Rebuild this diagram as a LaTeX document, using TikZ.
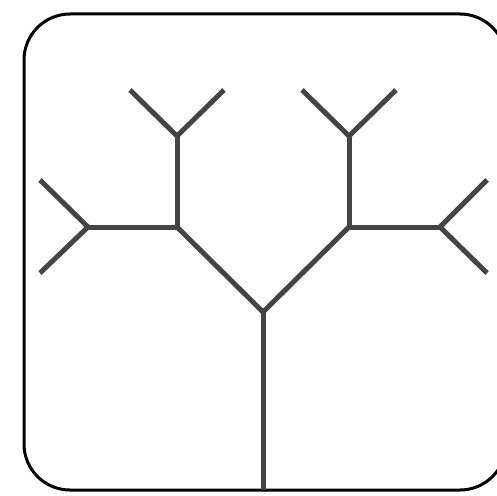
\documentclass[tikz,border=0pt]{standalone}
\usepackage{tikz}
\usepackage{xcolor}
\definecolor{branchgray}{HTML}{444444}

\begin{document}
\begin{tikzpicture}[
    x=1pt, y=-1pt,
    frame/.style={draw=black, line width=3pt, rounded corners=46pt},
    branch/.style={draw=branchgray, line width=5pt, line cap=butt, line join=miter}
]
    \useasboundingbox (0,0) rectangle (497,495);

    % Frame
    \draw[frame] (24,14) rectangle (506,490);

    % Trunk and fork
    \coordinate (root) at (263,490);
    \coordinate (fork) at (263,312);
    \coordinate (lmid) at (177,227);
    \coordinate (rmid) at (349,227);

    % Left branch
    \coordinate (ltop) at (177,136);
    \coordinate (ltopl) at (130,90);
    \coordinate (ltopr) at (224,90);
    \coordinate (lside) at (88,227);
    \coordinate (lsideu) at (40,180);
    \coordinate (lsided) at (40,273);

    % Right branch
    \coordinate (rtop) at (349,136);
    \coordinate (rtopl) at (302,90);
    \coordinate (rtopr) at (396,90);
    \coordinate (rside) at (440,227);
    \coordinate (rsideu) at (487,180);
    \coordinate (rsided) at (487,273);

    % Connections
    \draw[branch] (root) -- (fork);
    \draw[branch] (lmid) -- (fork) -- (rmid);

    \draw[branch] (lmid) -- (ltop);
    \draw[branch] (ltopl) -- (ltop) -- (ltopr);
    \draw[branch] (lmid) -- (lside);
    \draw[branch] (lsideu) -- (lside) -- (lsided);

    \draw[branch] (rmid) -- (rtop);
    \draw[branch] (rtopl) -- (rtop) -- (rtopr);
    \draw[branch] (rmid) -- (rside);
    \draw[branch] (rsideu) -- (rside) -- (rsided);
\end{tikzpicture}
\end{document}
